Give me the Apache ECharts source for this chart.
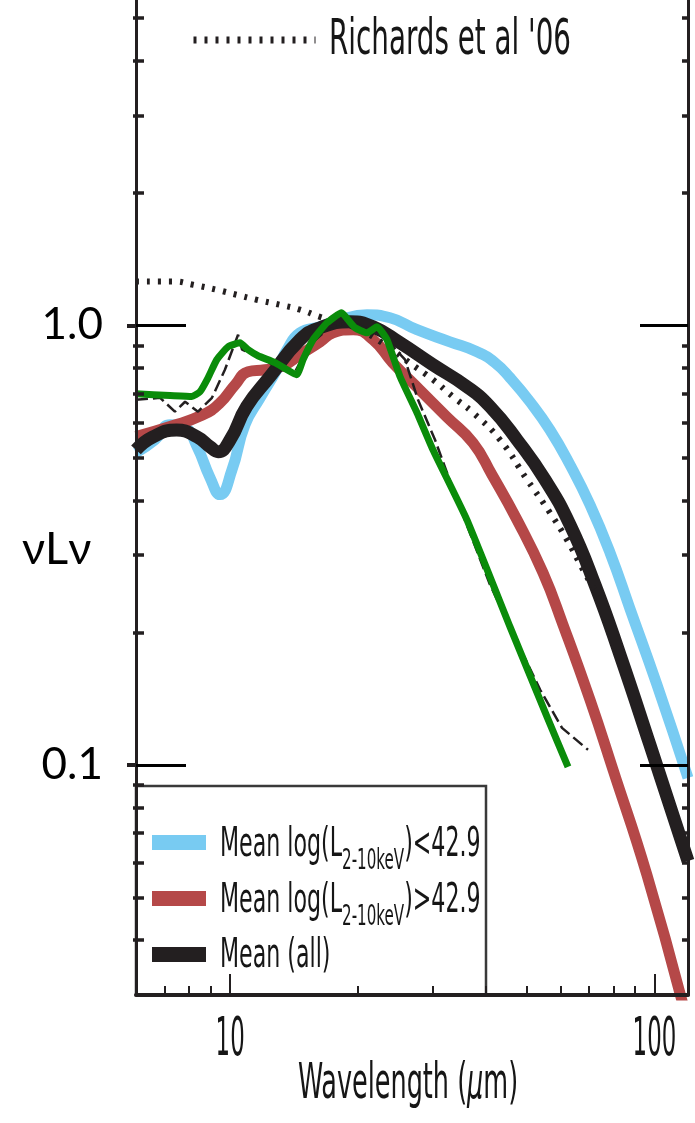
<!DOCTYPE html>
<html>
<head>
<meta charset="utf-8">
<script src="https://cdn.jsdelivr.net/npm/echarts@6/dist/echarts.min.js"></script>
<style>
html,body{margin:0;padding:0;background:#ffffff;}
#chart{width:695px;height:1123px;}
</style>
</head>
<body>
<div id="chart"></div>
<script>
// ---------------- data ----------------
const xMajorTicks = [10, 100];
const xMinorTicks = [7, 8, 9, 20, 30, 40, 50, 60, 70, 80, 90];
const yMajorTicks = [0.1, 1];
const yMinorTicks = [0.04, 0.05, 0.06, 0.07, 0.08, 0.09, 0.2, 0.3, 0.4, 0.5, 0.6, 0.7, 0.8, 0.9, 2, 3, 4, 5];
const xTickLabels = ['10', '100'];
const yTickLabels = ['0.1', '1.0'];
const xAxisTitle = 'Wavelength ({i|μ}m)';
const yAxisTitle = 'νLν';

// Mean log(L2-10keV) < 42.9  [wavelength (um), nuLnu]
const lowLumSED = [[6.0,0.513],[6.65,0.549],[7.22,0.594],[7.83,0.585],[8.36,0.529],[8.97,0.450],[9.47,0.412],[10.1,0.469],[10.84,0.594],[11.77,0.684],[12.88,0.792],[13.62,0.880],[14.61,0.961],[16.29,0.992],[18.16,1.029],[21.02,1.056],[23.82,1.040],[27.57,0.977],[32.98,0.917],[38.19,0.8705],[42.1,0.822],[45.68,0.7596],[50.9,0.670],[56.75,0.578],[63.25,0.4817],[70.5,0.3906],[78.6,0.3039],[87.6,0.2266],[101.4,0.1522],[120,0.0935]];
// Mean log(L2-10keV) > 42.9
const highLumSED = [[6.0,0.5586],[7.22,0.5886],[8.63,0.6257],[9.47,0.6664],[10.27,0.732],[11.02,0.784],[12.08,0.792],[13.33,0.809],[14.61,0.857],[16.29,0.917],[17.48,0.961],[19.49,0.977],[21.72,0.927],[24.16,0.822],[27.98,0.713],[32.4,0.619],[37.37,0.540],[41.42,0.457],[47.45,0.361],[54.63,0.2736],[60.9,0.2084],[70.5,0.1407],[79.9,0.0975],[96.0,0.0563],[116.8,0.0285]];
// Mean (all)
const allSED = [[6.0,0.521],[6.58,0.5577],[7.48,0.578],[8.35,0.5577],[8.97,0.529],[9.37,0.5157],[10.0,0.549],[10.94,0.6535],[12.42,0.765],[14.61,0.927],[16.29,0.987],[19.17,1.018],[21.72,0.992],[25.15,0.912],[30.06,0.813],[36.15,0.725],[40.98,0.653],[47.45,0.549],[55.24,0.4454],[63.25,0.3518],[72.44,0.2569],[82.97,0.1781],[97.6,0.1112],[120,0.0605]];
// Richards et al '06
const richardsSED = [[6.0,1.258],[7.33,1.258],[8.18,1.236],[9.30,1.204],[10.36,1.173],[11.55,1.143],[13.11,1.113],[14.61,1.085],[16.29,1.045],[18.16,1.013],[20.23,0.977],[23.17,0.903],[26.55,0.82],[30.06,0.752],[33.5,0.688],[37.37,0.6324],[43.27,0.549],[50.11,0.4454],[56.75,0.3746],[62.2,0.3252],[67.9,0.278],[74.45,0.2375]];
// green template
const greenSED = [[6.0,0.6984],[7.22,0.6924],[8.12,0.6888],[8.49,0.706],[8.87,0.7596],[9.30,0.8347],[9.89,0.8935],[10.55,0.912],[11.02,0.880],[11.63,0.8524],[12.76,0.822],[14.35,0.7718],[14.85,0.8347],[15.68,0.927],[16.92,1.013],[18.32,1.068],[18.96,1.029],[19.70,0.987],[21.02,0.961],[22.19,0.992],[23.43,0.927],[25.15,0.7636],[27.57,0.6324],[30.06,0.521],[36.15,0.361],[45.68,0.2062],[55.84,0.1287],[62.57,0.099]];
// thin black (noisy) spectrum behind the green one
const spectrumSED = [[6.0,0.677],[6.84,0.684],[7.41,0.636],[7.83,0.670],[8.40,0.636],[9.06,0.684],[9.72,0.792],[10.44,0.9515],[10.67,0.880],[11.89,0.8435],[13.11,0.792],[14.22,0.784],[15.43,0.903],[17.20,0.992],[19.17,1.018],[21.36,0.977],[23.17,0.937],[25.84,0.835],[27.72,0.677],[30.4,0.549],[33.9,0.4116],[40.98,0.257],[48.2,0.1847],[53.8,0.1483],[60.56,0.1215],[69.75,0.1083]];

const legendLabels = {
  lo: 'Mean log(L{s|2-10keV})<42.9',
  hi: 'Mean log(L{s|2-10keV})>42.9',
  all: 'Mean (all)',
  richards: "Richards et al '06"
};

// ---------------- styling ----------------
const X_MIN = 6, X_MAX = 120, Y_MIN = 0.03, Y_MAX = 5.49;
const AX = '#231f20';
const BLUE = '#78cbf2', RED = '#b54848', BLACK = '#231f20', GREEN = '#0a8c0a';
const NARROW = "'DejaVu Sans Condensed','DejaVu Sans',sans-serif";
const SANS = "Lato,'Noto Sans','Open Sans',sans-serif";
const TXT = '#161616';

function yAxisBase(pos) {
  return {
    type: 'log', logBase: 10, min: Y_MIN, max: Y_MAX, position: pos, z: 10,
    axisLine: {show: false}, axisLabel: {show: false},
    splitLine: {show: false}, minorTick: {show: false}, minorSplitLine: {show: false}
  };
}
function xAxisBase() {
  return {
    type: 'log', logBase: 10, min: X_MIN, max: X_MAX, position: 'bottom', z: 10,
    axisLine: {show: false}, axisLabel: {show: false},
    splitLine: {show: false}, minorTick: {show: false}, minorSplitLine: {show: false}
  };
}
function lineSeries(name, data, color, width, extra) {
  return Object.assign({
    type: 'line', name: name, data: data, xAxisIndex: 0, yAxisIndex: 0,
    symbol: 'none', showSymbol: false, smooth: 0.5, z: 2, silent: true,
    lineStyle: {color: color, width: width, cap: 'butt', join: 'round'},
    itemStyle: {color: color}
  }, extra || {});
}

const chart = echarts.init(document.getElementById('chart'), null, {renderer: 'canvas'});

const option = {
  animation: false,
  backgroundColor: '#ffffff',
  grid: {left: 136, right: 7, top: 0, bottom: 128, containLabel: false},
  xAxis: [
    Object.assign(xAxisBase(), {
      axisLine: {show: true, lineStyle: {color: AX, width: 4}},
      axisTick: {show: true, inside: true, length: 21, lineStyle: {color: AX, width: 2}, customValues: xMajorTicks}
    }),
    Object.assign(xAxisBase(), {
      axisTick: {show: true, inside: true, length: 9, lineStyle: {color: AX, width: 2}, customValues: xMinorTicks}
    })
  ],
  yAxis: [
    Object.assign(yAxisBase('left'), {
      axisLine: {show: true, lineStyle: {color: AX, width: 3}},
      axisTick: {show: true, inside: true, length: 50, lineStyle: {color: '#000', width: 3}, customValues: yMajorTicks},
      axisLabel: {show: true, customValues: yMajorTicks, formatter: v => (v >= 0.5 ? yTickLabels[1] : yTickLabels[0]),
        margin: 33, fontSize: 44, fontFamily: SANS, color: '#000'}
    }),
    Object.assign(yAxisBase('left'), {
      axisTick: {show: true, inside: true, length: 8, lineStyle: {color: AX, width: 3.5}, customValues: yMinorTicks}
    }),
    Object.assign(yAxisBase('left'), {
      axisTick: {show: true, inside: false, length: 3, lineStyle: {color: AX, width: 3.5}, customValues: yMinorTicks}
    }),
    Object.assign(yAxisBase('left'), {
      axisTick: {show: true, inside: false, length: 9, lineStyle: {color: AX, width: 4}, customValues: yMajorTicks}
    }),
    Object.assign(yAxisBase('right'), {
      axisLine: {show: true, lineStyle: {color: AX, width: 3}},
      axisTick: {show: true, inside: true, length: 48, lineStyle: {color: '#000', width: 3}, customValues: yMajorTicks}
    }),
    Object.assign(yAxisBase('right'), {
      axisTick: {show: true, inside: true, length: 6, lineStyle: {color: AX, width: 3.5}, customValues: yMinorTicks}
    })
  ],
  legend: [
    {
      data: ['lo', 'hi', 'all'],
      orient: 'vertical', left: 136, bottom: 128, z: 1,
      icon: 'rect', itemWidth: 54, itemHeight: 15, itemGap: 41,
      padding: [49, 280, 33, 16],
      borderColor: '#3a3a3a', borderWidth: 2.5, backgroundColor: 'transparent',
      selectedMode: false,
      formatter: () => '',
      textStyle: {fontSize: 12, color: TXT}
    },
    {
      data: ['richards'],
      left: 190, top: 33, padding: 0, itemWidth: 122, itemHeight: 14,
      selectedMode: false,
      formatter: () => '',
      lineStyle: {color: BLACK, width: 7, type: [3, 8]},
      itemStyle: {color: 'rgba(0,0,0,0)', opacity: 0, borderWidth: 0},
      textStyle: {fontSize: 12, color: TXT}
    }
  ],
  series: [
    lineSeries('lo', lowLumSED, BLUE, 11),
    lineSeries('hi', highLumSED, RED, 11),
    lineSeries('all', allSED, BLACK, 13),
    lineSeries('richards', richardsSED, BLACK, 6, {lineStyle: {color: BLACK, width: 6, type: [3, 8], cap: 'butt'}}),
    lineSeries('spectrum', spectrumSED, BLACK, 2.5, {smooth: false, lineStyle: {color: BLACK, width: 2.5, type: [12, 5]}}),
    lineSeries('template', greenSED, GREEN, 7, {smooth: 0.15})
  ]
};
chart.setOption(option);

// ---- condensed (IDL-style) texts: tick labels, axis title, legend labels ----
function narrowText(id, x, y, text, fs, sx, align, extraStyle) {
  return {
    type: 'text', id: id, x: x, y: y, scaleX: sx, z: 20, silent: true,
    style: Object.assign({text: text, fontSize: fs, fontFamily: NARROW, fill: TXT,
      align: align, verticalAlign: 'middle'}, extraStyle || {})
  };
}
const subRich = {s: {fontSize: 28, lineHeight: 28, fontFamily: NARROW, fill: TXT, padding: [34, 0, 0, 0], verticalAlign: 'top'}};
const graphics = [];
xMajorTicks.forEach((v, i) => {
  const px = chart.convertToPixel({xAxisIndex: 0}, v);
  graphics.push(narrowText('xtick' + i, px, 1041, xTickLabels[i], 54, 0.47, 'center'));
});
const xLeft = chart.convertToPixel({xAxisIndex: 0}, X_MIN);
const xRight = chart.convertToPixel({xAxisIndex: 0}, X_MAX);
graphics.push(narrowText('xtitle', (xLeft + xRight) / 2 - 4, 1085, xAxisTitle, 50, 0.567, 'center',
  {rich: {i: {fontSize: 50, fontFamily: NARROW, fontStyle: 'italic', fill: TXT}}}));
graphics.push(narrowText('leg-lo', 220, 845, legendLabels.lo, 41, 0.6, 'left', {lineHeight: 62, rich: subRich}));
graphics.push(narrowText('leg-hi', 220, 901, legendLabels.hi, 41, 0.6, 'left', {lineHeight: 62, rich: subRich}));
graphics.push(narrowText('leg-all', 220, 956, legendLabels.all, 41, 0.6, 'left'));
graphics.push(narrowText('leg-rich', 329, 41, legendLabels.richards, 49, 0.63, 'left'));
graphics.push({type: 'text', id: 'ytitle', x: 22, y: 549, z: 20, silent: true,
  style: {text: yAxisTitle, fontSize: 45, fontFamily: SANS, fill: '#000', align: 'left', verticalAlign: 'middle'}});
chart.setOption({graphic: graphics});
</script>
</body>
</html>
